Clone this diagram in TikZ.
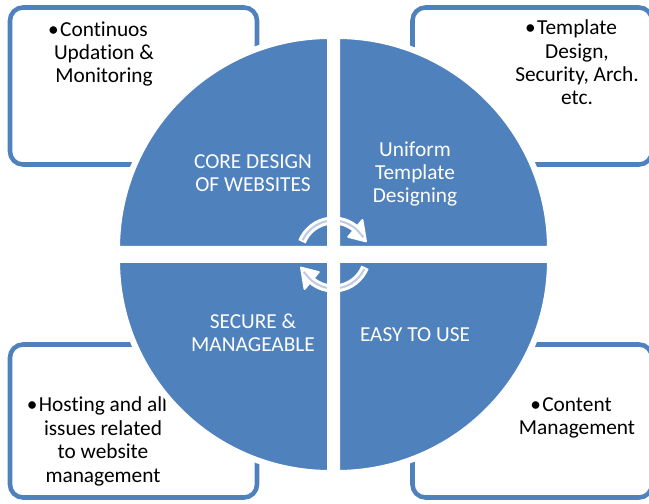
\documentclass[tikz,border=0pt]{standalone}
\usepackage{fontspec}
\setmainfont{Carlito}[Ligatures=NoCommon]
\definecolor{accent}{RGB}{79,129,189}
\definecolor{pale}{RGB}{190,203,228}
\begin{document}
\begin{tikzpicture}[x=0.75pt,y=0.75pt,
  box/.style={draw=accent, line width=3.4pt, rounded corners=9.75pt},
  quad/.style={fill=accent, draw=white, line width=4.5pt},
  bt/.style={font=\fontsize{16}{17.6}\selectfont, align=center, anchor=base, inner sep=0pt, text=black},
  wt/.style={bt, text=white},
  arrowband/.style={draw=white, line width=6pt},
  arrowhd/.style={fill=white, draw=white, line width=1.5pt, line join=round},
  arrowcore/.style={draw=pale, line width=1.5pt}]
\useasboundingbox (0,0) rectangle (649,503);
% corner boxes
\draw[box] (10,338.5) rectangle (257,495.5);
\draw[box] (412.5,338.5) rectangle (652,495.5);
\draw[box] (10,5.5) rectangle (257,158.5);
\draw[box] (412.5,5.5) rectangle (652,158.5);
% box texts (anchor base = baseline of last line)
\node[bt] (tltext) at (104,420) {\llap{•\hspace{1pt}}Continuos\\Updation \&\\Monitoring};
\node[bt] (trtext) at (577,398) {\llap{•\hspace{1pt}}Template\\Design,\\Security, Arch.\\etc.};
\node[bt] (bltext) at (103,21) {\llap{•\hspace{1pt}}Hosting and all\\issues related\\to website\\management};
\node[bt] (brtext) at (577,68) {\llap{•\hspace{1pt}}Content\\Management};
% quadrants
\filldraw[quad] (330,254) -- (117,254) arc[start angle=180,end angle=90,radius=213] -- cycle;
\filldraw[quad] (337,254) -- (337,467) arc[start angle=90,end angle=0,radius=213] -- cycle;
\filldraw[quad] (330,243) -- (117,243) arc[start angle=180,end angle=270,radius=213] -- cycle;
\filldraw[quad] (337,243) -- (337,30) arc[start angle=270,end angle=360,radius=213] -- cycle;
% quadrant texts
\node[wt] (q1) at (253,311) {CORE DESIGN\\OF WEBSITES};
\node[wt] (q2) at (415,300) {Uniform\\Template\\Designing};
\node[wt] (q3) at (253,151) {SECURE \&\\MANAGEABLE};
\node[wt] (q4) at (415,161) {EASY TO USE};
% cycle arrows
\coordinate (ac) at (333.5,248.5);
\draw[arrowband] ([shift={(158:34)}]ac) arc[start angle=158,end angle=48,radius=34];
\filldraw[arrowhd] ([shift={(50:45)}]ac) -- ([shift={(22:35)}]ac) -- ([shift={(50:23)}]ac) -- cycle;
\draw[arrowcore] ([shift={(155:34)}]ac) arc[start angle=155,end angle=101,radius=34];
\draw[arrowcore] ([shift={(79:34)}]ac) arc[start angle=79,end angle=46,radius=34] -- ([shift={(30:34.5)}]ac);
\draw[arrowband] ([shift={(-22:34)}]ac) arc[start angle=-22,end angle=-132,radius=34];
\filldraw[arrowhd] ([shift={(-130:45)}]ac) -- ([shift={(-158:35)}]ac) -- ([shift={(-130:23)}]ac) -- cycle;
\draw[arrowcore] ([shift={(-25:34)}]ac) arc[start angle=-25,end angle=-79,radius=34];
\draw[arrowcore] ([shift={(-101:34)}]ac) arc[start angle=-101,end angle=-134,radius=34] -- ([shift={(-150:34.5)}]ac);
\end{tikzpicture}
\end{document}
